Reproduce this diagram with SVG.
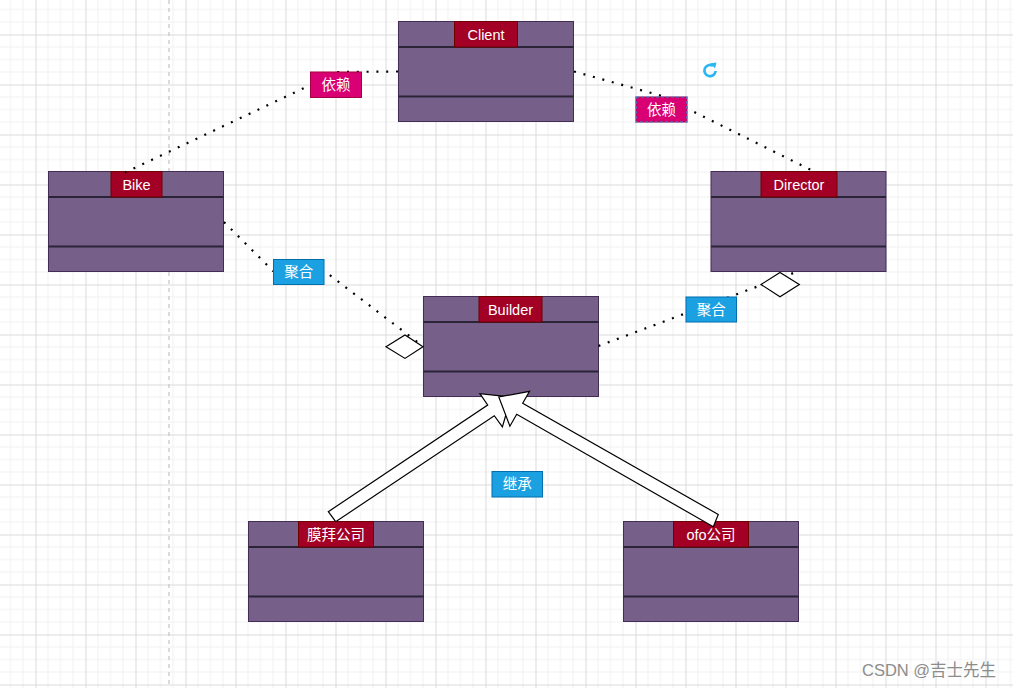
<svg xmlns="http://www.w3.org/2000/svg" width="1013" height="688" viewBox="0 0 1013 688">
<style>
.body{fill:#76608a;stroke:#432d57;stroke-width:1}
.div{stroke:#2b2336;stroke-width:2}
.title{fill:#a20025;stroke:#6f0000;stroke-width:1}
.tt{font-family:"Liberation Sans","Noto Sans CJK SC",sans-serif;font-size:14.5px;fill:#ffffff;text-anchor:middle;dominant-baseline:central}
.dot{fill:none;stroke:#000;stroke-width:2.2;stroke-dasharray:2 7.8}
.dep{fill:#d80073;stroke:#a50040}
.agg{fill:#1ba1e2;stroke:#006eaf}
.hollow{fill:#fff;stroke:#000;stroke-width:1.2;stroke-linejoin:miter}
</style>
<defs>
<pattern id="grid" x="35.5" y="34.5" width="50" height="50" patternUnits="userSpaceOnUse">
<path d="M12.5 0V50M25 0V50M37.5 0V50M0 12.5H50M0 25H50M0 37.5H50" stroke="#f1f1f1" stroke-width="1"/>
<path d="M0.5 0V50M0 0.5H50" stroke="#dadada" stroke-width="1"/>
</pattern>
</defs>
<rect width="1013" height="688" fill="#fff"/>
<rect width="1013" height="688" fill="url(#grid)"/>
<line x1="169" y1="0" x2="169" y2="688" stroke="#c4c4c4" stroke-width="1.2" stroke-dasharray="4 4"/>

<g id="node-client">
<rect class="body" x="398.5" y="21.5" width="175" height="100"/>
<line class="div" x1="398.5" y1="47" x2="573.5" y2="47"/>
<line class="div" x1="398.5" y1="96.5" x2="573.5" y2="96.5"/>
<rect class="title" x="454.5" y="21.5" width="63" height="25.5"/>
<text class="tt" x="486" y="34.5">Client</text>
</g>
<g id="node-bike">
<rect class="body" x="48.5" y="171.5" width="175" height="100"/>
<line class="div" x1="48.5" y1="197" x2="223.5" y2="197"/>
<line class="div" x1="48.5" y1="246.5" x2="223.5" y2="246.5"/>
<rect class="title" x="111" y="171.5" width="51" height="25.5"/>
<text class="tt" x="136.5" y="184.5">Bike</text>
</g>
<g id="node-director">
<rect class="body" x="711" y="171.5" width="175" height="100"/>
<line class="div" x1="711" y1="197" x2="886" y2="197"/>
<line class="div" x1="711" y1="246.5" x2="886" y2="246.5"/>
<rect class="title" x="761" y="171.5" width="76" height="25.5"/>
<text class="tt" x="799" y="184.5">Director</text>
</g>
<g id="node-builder">
<rect class="body" x="423.5" y="296.5" width="175" height="100"/>
<line class="div" x1="423.5" y1="322" x2="598.5" y2="322"/>
<line class="div" x1="423.5" y1="371.5" x2="598.5" y2="371.5"/>
<rect class="title" x="479" y="296.5" width="63" height="25.5"/>
<text class="tt" x="510.5" y="309.5">Builder</text>
</g>
<g id="node-mobike">
<rect class="body" x="248.5" y="521.5" width="175" height="100"/>
<line class="div" x1="248.5" y1="547" x2="423.5" y2="547"/>
<line class="div" x1="248.5" y1="596.5" x2="423.5" y2="596.5"/>
<rect class="title" x="298.5" y="521.5" width="75" height="25.5"/>
<text class="tt" x="336" y="534.5">膜拜公司</text>
</g>
<g id="node-ofo">
<rect class="body" x="623.5" y="521.5" width="175" height="100"/>
<line class="div" x1="623.5" y1="547" x2="798.5" y2="547"/>
<line class="div" x1="623.5" y1="596.5" x2="798.5" y2="596.5"/>
<rect class="title" x="673.5" y="521.5" width="75" height="25.5"/>
<text class="tt" x="711" y="534.5">ofo公司</text>
</g>

<g id="connectors">
<polyline class="dot" points="398,71.5 338,72 125,172.5"/>
<polyline class="dot" points="574,71.5 662,96 816,172.5"/>
<polyline class="dot" points="224,222 273,271 325,271.5 418,342.5 423,346.5"/>
<polygon class="hollow" points="386,346.7 405,335 423,346.7 405,358.4"/>
<line class="dot" x1="598.5" y1="346" x2="797" y2="271.7"/>
<polygon class="hollow" points="761,284.5 780,272.5 799.3,284.5 780,296.7"/>
<polygon class="hollow" points="328.3,511.7 487.7,405 479.9,393.7 511,397 502.4,426.9 494.3,415.7 335.7,521.7"/>
<polygon class="hollow" points="718.3,514.5 522.7,403.3 529.5,391.4 498.8,397 509.9,426.2 516.7,414.3 713.3,526.7"/>
</g>

<g id="labels">
<rect class="dep" x="310.5" y="72" width="51" height="25.5"/>
<text class="tt" x="336" y="84.7">依赖</text>
<rect class="dep" x="636" y="97" width="51" height="25"/>
<rect x="636" y="97" width="51" height="25" fill="none" stroke="#3d8fe0" stroke-width="1.2" stroke-dasharray="3 2"/>
<text class="tt" x="661.5" y="109.5">依赖</text>
<rect class="agg" x="273.5" y="259.5" width="50.5" height="25"/>
<text class="tt" x="298.7" y="272">聚合</text>
<rect class="agg" x="686" y="297" width="50.5" height="25"/>
<text class="tt" x="711.2" y="309.5">聚合</text>
<rect class="agg" x="492" y="471.5" width="50.5" height="25.5"/>
<text class="tt" x="517.2" y="484.2">继承</text>
</g>

<g id="refresh-icon">
<path d="M713 65.8 A5.6 5.6 0 1 0 715.6 71" fill="none" stroke="#29b6f2" stroke-width="2.6"/>
<polygon points="710.5,63.2 716.5,62.5 715,68.5" fill="#29b6f2"/>
</g>

<text x="862" y="676" font-family="Liberation Sans,'Noto Sans CJK SC',sans-serif" font-size="16.5" fill="#8c8c8c">CSDN @吉士先生</text>
</svg>
